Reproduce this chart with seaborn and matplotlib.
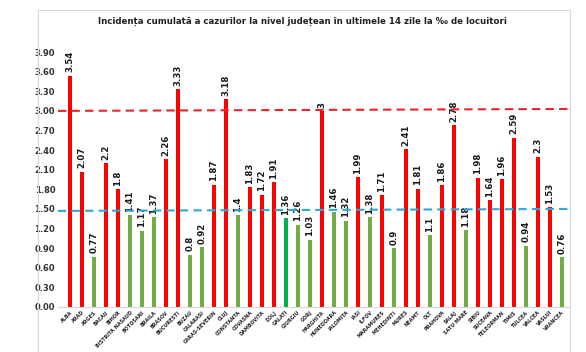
import matplotlib
matplotlib.use("Agg")
import matplotlib.pyplot as plt
import seaborn as sns
import pandas as pd
import numpy as np
from matplotlib.patches import Rectangle

counties = ["ALBA", "ARAD", "ARGES", "BACAU", "BIHOR", "BISTRITA NASAUD", "BOTOSANI",
            "BRAILA", "BRASOV", "BUCURESTI", "BUZAU", "CALARASI", "CARAS-SEVERIN", "CLUJ",
            "CONSTANTA", "COVASNA", "DAMBOVITA", "DOLJ", "GALATI", "GIURGIU", "GORJ",
            "HARGHITA", "HUNEDOARA", "IALOMITA", "IASI", "ILFOV", "MARAMURES", "MEHEDINTI",
            "MURES", "NEAMT", "OLT", "PRAHOVA", "SALAJ", "SATU MARE", "SIBIU", "SUCEAVA",
            "TELEORMAN", "TIMIS", "TULCEA", "VALCEA", "VASLUI", "VRANCEA"]
values = [3.54, 2.07, 0.77, 2.2, 1.8, 1.41, 1.17, 1.37, 2.26, 3.33, 0.8, 0.92, 1.87,
          3.18, 1.4, 1.83, 1.72, 1.91, 1.36, 1.26, 1.03, 3, 1.46, 1.32, 1.99, 1.38, 1.71,
          0.9, 2.41, 1.81, 1.1, 1.86, 2.78, 1.18, 1.98, 1.64, 1.96, 2.59, 0.94, 2.3, 1.53,
          0.76]
labels = ["3.54", "2.07", "0.77", "2.2", "1.8", "1.41", "1.17", "1.37", "2.26", "3.33",
          "0.8", "0.92", "1.87", "3.18", "1.4", "1.83", "1.72", "1.91", "1.36", "1.26",
          "1.03", "3", "1.46", "1.32", "1.99", "1.38", "1.71", "0.9", "2.41", "1.81", "1.1",
          "1.86", "2.78", "1.18", "1.98", "1.64", "1.96", "2.59", "0.94", "2.3", "1.53",
          "0.76"]
red_line = [3.00, 3.03]
blue_line = [1.47, 1.50]
yticks = [0.00, 0.30, 0.60, 0.90, 1.20, 1.50, 1.80, 2.10, 2.40, 2.70, 3.00, 3.30, 3.60, 3.90]

RED = "#FF0000"
GREEN = "#70AD47"
DARKGREEN = "#00B050"
colors = []
for c, v in zip(counties, values):
    if c == "GALATI":
        colors.append(DARKGREEN)
    elif v >= 1.5:
        colors.append(RED)
    else:
        colors.append(GREEN)

df = pd.DataFrame({"county": counties, "value": values})

sns.set_theme(style="white")
plt.rcParams['font.family'] = ['DejaVu Sans']

fig = plt.figure(figsize=(5.86, 3.52), dpi=100)
ax = fig.add_axes([58/586, 45/352, (570.4-58)/586, 268/352])

sns.barplot(data=df, x="county", y="value", hue="county", palette=colors,
            width=0.38, dodge=False, legend=False, ax=ax, saturation=1,
            linewidth=0, edgecolor="none")

ax.set_xlim(-1, 41.7)
ax.set_ylim(0, 4.1)

for i, (v, lab) in enumerate(zip(values, labels)):
    ax.text(i, v + 0.05, lab, rotation=90, ha="center", va="bottom",
            fontsize=6.2, fontweight="semibold", color="#1a1a1a")

xl = ax.get_xlim()
ax.plot(xl, red_line, color="#E8262A", lw=1.5, ls=(0, (4, 2.5)), zorder=5)
ax.plot(xl, blue_line, color="#2EA8D8", lw=1.5, ls=(0, (4, 2.5)), zorder=5)

ax.set_yticks(yticks)
ax.set_yticklabels([f"{t:.2f}" for t in yticks], fontsize=6, fontweight="bold",
                   color="#333333")
ax.set_xticks(range(len(counties)))
ax.set_xticklabels(counties, rotation=45, ha="right", rotation_mode="anchor",
                   fontsize=3.5, fontweight="bold", color="#222222")
ax.tick_params(axis="both", length=0, pad=2)
ax.set_xlabel("")
ax.set_ylabel("")
for s in ["top", "right", "left"]:
    ax.spines[s].set_visible(False)
ax.spines["bottom"].set_color("#D9D9D9")
ax.spines["bottom"].set_linewidth(0.8)

fig.patches.append(Rectangle((38/586, -0.05), (570-38)/586, (352-10)/352 + 0.05,
                             transform=fig.transFigure, fill=False,
                             edgecolor="#D9D9D9", lw=0.8))

fig.text(302/586, 1 - 21/352,
         "Incidența cumulată a cazurilor la nivel județean în ultimele 14 zile la ‰ de locuitori",
         ha="center", va="center", fontsize=6.2, fontweight="bold", color="#222222")

fig.savefig("out.png", dpi=100)
